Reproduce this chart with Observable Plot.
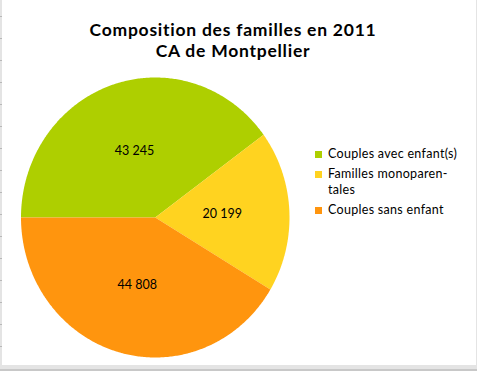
<!DOCTYPE html>
<html>
<head>
<meta charset="utf-8">
<script src="https://cdn.jsdelivr.net/npm/d3@7"></script>
<script src="https://cdn.jsdelivr.net/npm/@observablehq/plot@0.6"></script>
<style>
  html, body { margin: 0; padding: 0; }
  body { width: 477px; height: 371px; background: #e4e4e4; position: relative; overflow: hidden; font-family: Lato, "Open Sans", sans-serif; }
  #leftstrip { position: absolute; left: 0; top: 0; width: 2px; height: 365px;
    background: repeating-linear-gradient(to bottom, #e4e4e4 0 16px, #b8b8b8 16px 17px, #e4e4e4 17px 22px); }
  #bottomstrip { position: absolute; left: 0; top: 365px; width: 477px; height: 6px; background: #e4e4e4; border-bottom: 2px solid #c8c8c8; box-sizing: border-box;}
  #chart { position: absolute; left: 2px; top: 0; width: 474px; height: 365px; background: #fff; }
  #title { position: absolute; left: 0; width: 462px; top: 18.5px; text-align: center; font-family: Lato, sans-serif; font-weight: 700; font-size: 17.5px; letter-spacing: 0.75px; color: #000; }
  #title div { height: 21px; line-height: 21px; white-space: nowrap; }
  #legend { position: absolute; left: 313px; top: 146px; font-family: Lato, sans-serif; font-size: 12.5px; letter-spacing: 0.3px; color: #000; }
  .item { display: flex; align-items: flex-start; margin-bottom: 4px; line-height: 16px; }
  .sw { width: 7px; height: 7px; margin-top: 5px; margin-right: 6px; flex: none; }
  svg { position: absolute; left: 0; top: 0; }
</style>
</head>
<body>
<div id="leftstrip"></div>
<div id="bottomstrip"></div>
<div id="chart"></div>
<script>
const categories = ["Couples avec enfant(s)", "Familles monoparentales", "Couples sans enfant"];
const legendLabels = ["Couples avec enfant(s)", "Familles monoparen-<br>tales", "Couples sans enfant"];
const values = [43245, 20199, 44808];
const colors = ["#aecf00", "#ffd320", "#ff950e"];
const titleLines = ["Composition des familles en 2011", "CA de Montpellier"];

const total = d3.sum(values);
const startAngle = Math.PI; // 9 o'clock, going clockwise
const polys = [];
const labels = [];
let a = startAngle;
const fmt = d3.formatLocale({decimal: ",", thousands: " ", grouping: [3], currency: ["", " €"]}).format(",d");
values.forEach((v, i) => {
  const span = v / total * 2 * Math.PI;
  const a0 = a, a1 = a - span;
  polys.push({cat: categories[i], x: 0, y: 0});
  const n = Math.max(2, Math.ceil(span / 0.01));
  for (let k = 0; k <= n; k++) {
    const t = a0 + (a1 - a0) * k / n;
    polys.push({cat: categories[i], x: Math.cos(t), y: Math.sin(t)});
  }
  polys.push({cat: categories[i], x: 0, y: 0});
  const m = (a0 + a1) / 2;
  labels.push({x: 0.5 * Math.cos(m), y: 0.5 * Math.sin(m), text: fmt(values[i])});
  a = a1;
});

const chart = Plot.plot({
  width: 474,
  height: 365,
  margin: 0,
  x: {domain: [-1, 1], range: [18.5, 287], axis: null},
  y: {domain: [-1, 1], range: [357, 77], axis: null},
  color: {domain: categories, range: colors},
  style: {background: "transparent"},
  marks: [
    Plot.line(polys, {x: "x", y: "y", z: "cat", fill: "cat", stroke: null, curve: "linear"}),
    Plot.text(labels, {x: "x", y: "y", text: "text", fontSize: 12.5, fontFamily: "Lato, sans-serif", fill: "#000"})
  ]
});
const host = document.getElementById("chart");
host.appendChild(chart);

const title = document.createElement("div");
title.id = "title";
titleLines.forEach(t => {
  const d = document.createElement("div");
  d.textContent = t;
  title.appendChild(d);
});
host.appendChild(title);

const legend = document.createElement("div");
legend.id = "legend";
categories.forEach((c, i) => {
  const it = document.createElement("div");
  it.className = "item";
  it.innerHTML = `<span class="sw" style="background:${colors[i]}"></span><span>${legendLabels[i]}</span>`;
  legend.appendChild(it);
});
host.appendChild(legend);
</script>
</body>
</html>
